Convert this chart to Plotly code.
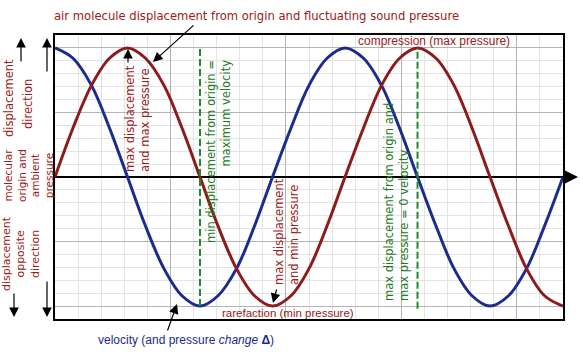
import plotly.graph_objects as go

phase = [0.00, 0.39, 0.79, 1.18, 1.57, 1.96, 2.36, 2.75, 3.14, 3.53, 3.93, 4.32,
         4.71, 5.11, 5.50, 5.89, 6.28, 6.68, 7.07, 7.46, 7.85, 8.25, 8.64, 9.03,
         9.42, 9.82, 10.21, 10.60, 11.00]
displacement = [0, 0.38, 0.71, 0.92, 1, 0.92, 0.71, 0.38, 0, -0.38, -0.71, -0.92,
                -1, -0.92, -0.71, -0.38, 0, 0.38, 0.71, 0.92, 1, 0.92, 0.71, 0.38,
                0, -0.38, -0.71, -0.92, -1]
velocity = [1, 0.92, 0.71, 0.38, 0, -0.38, -0.71, -0.92, -1, -0.92, -0.71, -0.38,
            0, 0.38, 0.71, 0.92, 1, 0.92, 0.71, 0.38, 0, -0.38, -0.71, -0.92,
            -1, -0.92, -0.71, -0.38, 0]
# green reference markers: (phase, bottom, top)
marker_phase = [3.14, 7.85]
marker_bottom = [-1.0, -1.02]
marker_top = [1.0, 1.0]

RED = "#8e1b1b"
TXT_RED = "#9b2020"
BLUE = "#1c2c8c"
GREEN = "#1e8a2a"
TXT_GREEN = "#237a23"

W, H = 583, 352
L, R, T, B = 55, 20, 35, 33
PW, PH = W - L - R, H - T - B

def px(x):
    return (x - L) / PW

def py(y):
    return (H - B - y) / PH

fig = go.Figure()
fig.add_trace(go.Scatter(x=phase, y=velocity, mode="lines", line=dict(color=BLUE, width=3, shape="spline"), hoverinfo="skip"))
fig.add_trace(go.Scatter(x=phase, y=displacement, mode="lines", line=dict(color=RED, width=3, shape="spline"), hoverinfo="skip"))
for xp, yb, yt in zip(marker_phase, marker_bottom, marker_top):
    fig.add_trace(go.Scatter(x=[xp, xp], y=[yb, yt], mode="lines",
                             line=dict(color=GREEN, width=2, dash="7px,3px"), hoverinfo="skip"))

ann = []
def text(t, x, y, color, size, family="DejaVu Sans", angle=0, align="center"):
    ann.append(dict(text=t, x=px(x), y=py(y), xref="paper", yref="paper", showarrow=False,
                    xanchor="center", yanchor="middle", textangle=angle, align=align,
                    font=dict(color=color, size=size, family=family)))

def arrow(hx, hy, ax, ay, width=1.2, head=2, size=1.6):
    ann.append(dict(text="", x=px(hx), y=py(hy), xref="paper", yref="paper", showarrow=True,
                    ax=ax, ay=ay, arrowhead=head, arrowsize=size, arrowwidth=width, arrowcolor="black"))

text("air molecule displacement from origin and fluctuating sound pressure", 256, 16, TXT_RED, 11.6)
text("compression (max pressure)", 434, 41, TXT_RED, 12, "Liberation Sans")
text("rarefaction (min pressure)", 288, 313, TXT_RED, 11.5, "Liberation Sans")
text("velocity (and pressure <i>change</i> <b>Δ</b>)", 186, 340, BLUE, 12, "Liberation Sans")

text("displacement", 9, 98, TXT_RED, 11.5, angle=-90)
text("direction", 28, 104, TXT_RED, 11.5, angle=-90)
text("molecular<br>origin and<br>ambient<br>pressure", 28, 176, TXT_RED, 10.5, angle=-90)
text("displacement<br>opposite<br>direction", 21, 254, TXT_RED, 11, angle=-90)

text("max displacement<br>and max pressure", 137, 119, TXT_RED, 11.5, angle=-90, align="left")
text("min displacement from origin =<br>maximum velocity", 218, 152, TXT_GREEN, 11.5, angle=-90, align="right")
text("max displacement<br>and min pressure", 286, 232, TXT_RED, 11.5, angle=-90, align="left")
text("max displacement from origin and<br>max pressure = 0 velocity", 396, 202, TXT_GREEN, 11.5, angle=-90, align="left")

arrow(153, 62, 42, -38)
arrow(128, 49, 0, 15)
arrow(273, 303, 4, -15)
arrow(177, 304, -10, 28)
arrow(21, 38, 0, 25)
arrow(47, 38, 0, 35)
arrow(14, 317, 0, -25)
arrow(47, 317, 0, -37)
arrow(578, 177, -16, 0, width=2, head=2, size=1.3)

fig.update_layout(
    width=W, height=H, margin=dict(l=L, r=R, t=T, b=B),
    paper_bgcolor="white", plot_bgcolor="white", showlegend=False,
    annotations=ann,
    xaxis=dict(range=[0, 11], showticklabels=False, ticks="", zeroline=False,
               tick0=0, dtick=2.5, showgrid=True, gridcolor="#b4b4b4", gridwidth=1,
               minor=dict(tick0=0, dtick=0.5, showgrid=True, gridcolor="#e4e4e4", gridwidth=1),
               showline=True, mirror=True, linecolor="black", linewidth=1.5),
    yaxis=dict(range=[-1.1, 1.1], showticklabels=False, ticks="",
               tick0=0, dtick=0.5, showgrid=True, gridcolor="#b4b4b4", gridwidth=1,
               minor=dict(tick0=0, dtick=0.1, showgrid=True, gridcolor="#e4e4e4", gridwidth=1),
               zeroline=True, zerolinecolor="black", zerolinewidth=2,
               showline=True, mirror=True, linecolor="black", linewidth=1.5),
)
fig.write_html("out.html")
